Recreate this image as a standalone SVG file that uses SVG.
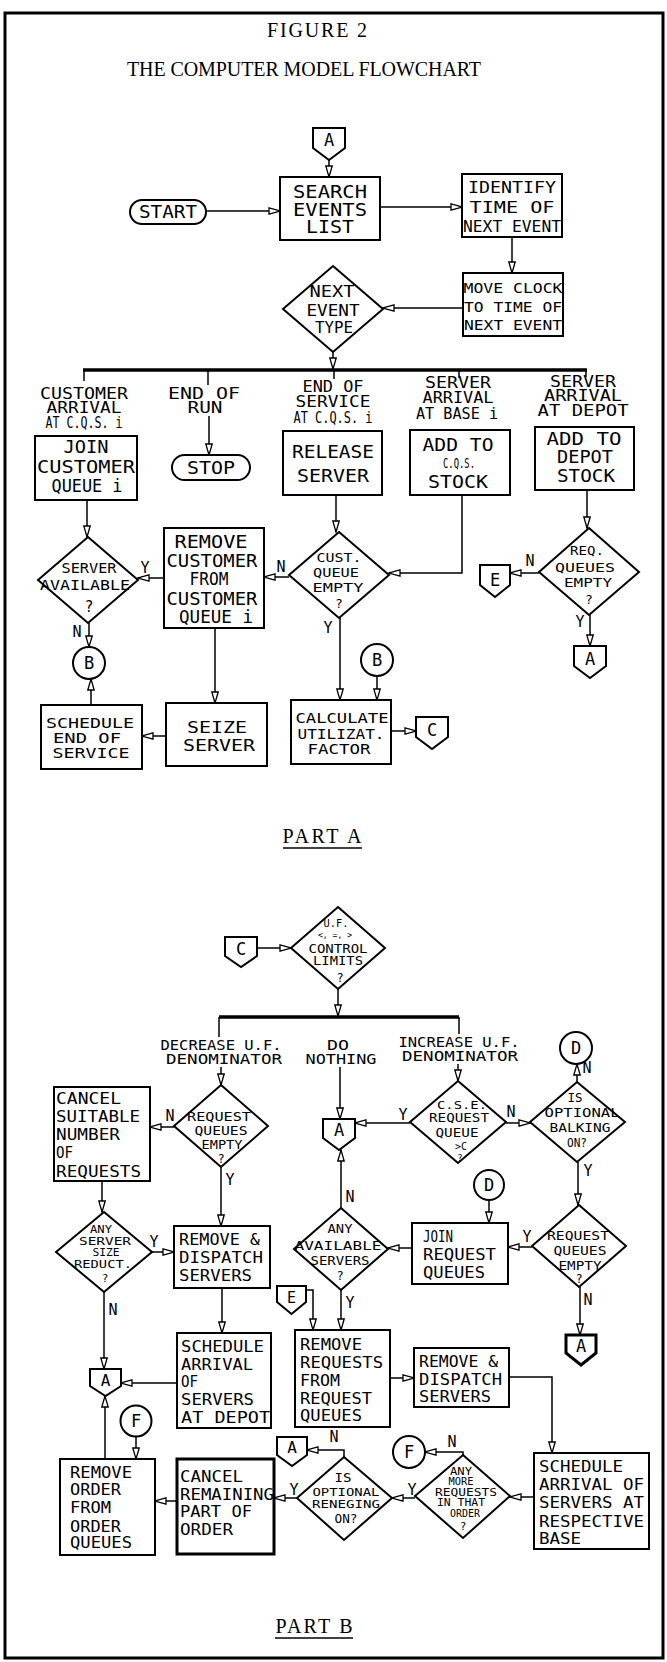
<svg xmlns="http://www.w3.org/2000/svg" width="667" height="1662" viewBox="0 0 667 1662">
<style>
.frame{fill:none;stroke:#000;stroke-width:3}
.bx{fill:#fff;stroke:#000;stroke-width:2}
.bb{fill:#fff;stroke:#000;stroke-width:3}
.c{fill:none;stroke:#000;stroke-width:1.5}
.bus{stroke:#000;stroke-width:3.5;fill:none}
text{font-family:"DejaVu Sans Mono",monospace;fill:#000}
.ti{font-family:"Liberation Serif",serif;font-size:20px;text-anchor:middle}
.m{text-anchor:middle}
.s{text-anchor:start}
.f18{font-size:18px}.f17{font-size:17px}.f16{font-size:16px}.f15{font-size:15px}.f14{font-size:14px}.f13{font-size:13px}.f12{font-size:12px}.f11{font-size:11px}.f10{font-size:10px}.f9{font-size:9px}
</style>
<defs>
<marker id="ah" markerUnits="userSpaceOnUse" markerWidth="13" markerHeight="9" refX="12" refY="4" orient="auto">
<path d="M1,0.8 L12,4 L1,7.2 Z" fill="#fff" stroke="#000" stroke-width="1.3"/>
</marker>
</defs>
<rect x="5" y="13" width="658" height="1645" fill="#fff"/>
<rect class="frame" x="5" y="13" width="658" height="1645"/>

<g id="titles">
<text class="ti" x="317" y="37" textLength="100" lengthAdjust="spacing">FIGURE 2</text>
<text class="ti" x="304" y="76" textLength="354" lengthAdjust="spacing">THE COMPUTER MODEL FLOWCHART</text>
<text class="ti" x="322" y="843" textLength="79" lengthAdjust="spacing">PART A</text>
<line x1="283" y1="848" x2="362" y2="848" stroke="#000" stroke-width="1.5"/>
<text class="ti" x="314" y="1633" textLength="77" lengthAdjust="spacing">PART B</text>
<line x1="275" y1="1638" x2="353" y2="1638" stroke="#000" stroke-width="1.5"/>
</g>

<g id="connectors">
<line class="c" x1="329" y1="160" x2="329" y2="177" marker-end="url(#ah)"/>
<line class="c" x1="206" y1="211" x2="280" y2="211" marker-end="url(#ah)"/>
<line class="c" x1="380" y1="207" x2="462" y2="207" marker-end="url(#ah)"/>
<line class="c" x1="512" y1="237" x2="512" y2="273" marker-end="url(#ah)"/>
<line class="c" x1="463" y1="308" x2="383" y2="308" marker-end="url(#ah)"/>
<line class="c" x1="333" y1="352" x2="333" y2="369" marker-end="url(#ah)"/>
<line class="bus" x1="83" y1="370" x2="587" y2="370"/>
<line class="c" x1="84" y1="370" x2="84" y2="381"/>
<line class="c" x1="208" y1="370" x2="208" y2="385"/>
<line class="c" x1="334" y1="370" x2="334" y2="379"/>
<line class="c" x1="459" y1="370" x2="459" y2="378"/>
<line class="c" x1="586" y1="370" x2="586" y2="377"/>
<line class="c" x1="209" y1="416" x2="209" y2="455" marker-end="url(#ah)"/>
<line class="c" x1="87" y1="500" x2="87" y2="537" marker-end="url(#ah)"/>
<line class="c" x1="336" y1="495" x2="336" y2="532" marker-end="url(#ah)"/>
<path class="c" d="M462,495 V573 H389" marker-end="url(#ah)"/>
<line class="c" x1="587" y1="490" x2="587" y2="528" marker-end="url(#ah)"/>
<line class="c" x1="164" y1="578" x2="138" y2="578" marker-end="url(#ah)"/>
<line class="c" x1="289" y1="577" x2="264" y2="577" marker-end="url(#ah)"/>
<line class="c" x1="539" y1="573" x2="510" y2="573" marker-end="url(#ah)"/>
<line class="c" x1="89" y1="623" x2="89" y2="647" marker-end="url(#ah)"/>
<line class="c" x1="91" y1="705" x2="91" y2="679" marker-end="url(#ah)"/>
<line class="c" x1="215" y1="628" x2="215" y2="703" marker-end="url(#ah)"/>
<line class="c" x1="166" y1="736" x2="142" y2="736" marker-end="url(#ah)"/>
<line class="c" x1="340" y1="618" x2="340" y2="700" marker-end="url(#ah)"/>
<line class="c" x1="377" y1="676" x2="377" y2="700" marker-end="url(#ah)"/>
<line class="c" x1="391" y1="731" x2="416" y2="731" marker-end="url(#ah)"/>
<line class="c" x1="590" y1="615" x2="590" y2="646" marker-end="url(#ah)"/>
<line class="c" x1="257" y1="948" x2="291" y2="948" marker-end="url(#ah)"/>
<line class="c" x1="338" y1="989" x2="338" y2="1016" marker-end="url(#ah)"/>
<line class="bus" x1="219" y1="1017" x2="459" y2="1017"/>
<line class="c" x1="219" y1="1017" x2="219" y2="1037"/>
<line class="c" x1="459" y1="1017" x2="459" y2="1034"/>
<line class="c" x1="221" y1="1067" x2="221" y2="1085" marker-end="url(#ah)"/>
<line class="c" x1="340" y1="1067" x2="340" y2="1119" marker-end="url(#ah)"/>
<line class="c" x1="458" y1="1064" x2="458" y2="1081" marker-end="url(#ah)"/>
<line class="c" x1="577" y1="1082" x2="577" y2="1064" marker-end="url(#ah)"/>
<line class="c" x1="174" y1="1127" x2="150" y2="1127" marker-end="url(#ah)"/>
<line class="c" x1="221" y1="1167" x2="221" y2="1226" marker-end="url(#ah)"/>
<line class="c" x1="102" y1="1181" x2="102" y2="1212" marker-end="url(#ah)"/>
<line class="c" x1="152" y1="1252" x2="174" y2="1252" marker-end="url(#ah)"/>
<line class="c" x1="104" y1="1292" x2="104" y2="1369" marker-end="url(#ah)"/>
<line class="c" x1="222" y1="1288" x2="222" y2="1333" marker-end="url(#ah)"/>
<line class="c" x1="177" y1="1383" x2="121" y2="1383" marker-end="url(#ah)"/>
<line class="c" x1="105" y1="1459" x2="105" y2="1396" marker-end="url(#ah)"/>
<line class="c" x1="410" y1="1123" x2="355" y2="1123" marker-end="url(#ah)"/>
<line class="c" x1="506" y1="1123" x2="530" y2="1123" marker-end="url(#ah)"/>
<line class="c" x1="578" y1="1162" x2="578" y2="1205" marker-end="url(#ah)"/>
<line class="c" x1="532" y1="1247" x2="508" y2="1247" marker-end="url(#ah)"/>
<line class="c" x1="489" y1="1200" x2="489" y2="1223" marker-end="url(#ah)"/>
<line class="c" x1="412" y1="1248" x2="388" y2="1248" marker-end="url(#ah)"/>
<line class="c" x1="341" y1="1208" x2="341" y2="1150" marker-end="url(#ah)"/>
<line class="c" x1="341" y1="1290" x2="341" y2="1330" marker-end="url(#ah)"/>
<path class="c" d="M306,1290 H313 V1330" marker-end="url(#ah)"/>
<line class="c" x1="580" y1="1287" x2="580" y2="1335" marker-end="url(#ah)"/>
<line class="c" x1="390" y1="1378" x2="414" y2="1378" marker-end="url(#ah)"/>
<path class="c" d="M509,1377 H552 V1453" marker-end="url(#ah)"/>
<line class="c" x1="534" y1="1497" x2="510" y2="1497" marker-end="url(#ah)"/>
<path class="c" d="M463,1455 V1452 H425" marker-end="url(#ah)"/>
<line class="c" x1="415" y1="1498" x2="392" y2="1498" marker-end="url(#ah)"/>
<path class="c" d="M344,1457 V1450 H307" marker-end="url(#ah)"/>
<line class="c" x1="297" y1="1498" x2="274" y2="1498" marker-end="url(#ah)"/>
<line class="c" x1="177" y1="1501" x2="155" y2="1501" marker-end="url(#ah)"/>
<line class="c" x1="136" y1="1437" x2="136" y2="1459" marker-end="url(#ah)"/>
</g>

<g id="flow-labels">
<text class="m f15" x="145" y="573">Y</text>
<text class="m f15" x="281" y="572">N</text>
<text class="m f15" x="530" y="566">N</text>
<text class="m f15" x="77" y="637">N</text>
<text class="m f15" x="328" y="633">Y</text>
<text class="m f15" x="580" y="627">Y</text>
<text class="m f15" x="587" y="1073">N</text>
<text class="m f15" x="170" y="1121">N</text>
<text class="m f15" x="230" y="1185">Y</text>
<text class="m f15" x="154" y="1247">Y</text>
<text class="m f15" x="113" y="1315">N</text>
<text class="m f15" x="403" y="1120">Y</text>
<text class="m f15" x="511" y="1117">N</text>
<text class="m f15" x="588" y="1176">Y</text>
<text class="m f15" x="527" y="1242">Y</text>
<text class="m f15" x="350" y="1202">N</text>
<text class="m f15" x="350" y="1308">Y</text>
<text class="m f15" x="588" y="1305">N</text>
<text class="m f15" x="452" y="1447">N</text>
<text class="m f15" x="412" y="1495">Y</text>
<text class="m f15" x="334" y="1442">N</text>
<text class="m f15" x="294" y="1495">Y</text>
</g>

<g id="branch-labels">
<text class="m f16" x="84" y="399" textLength="88" lengthAdjust="spacingAndGlyphs">CUSTOMER</text>
<text class="m f16" x="84" y="413" textLength="75" lengthAdjust="spacingAndGlyphs">ARRIVAL</text>
<text class="m f15" x="84" y="428" textLength="77" lengthAdjust="spacingAndGlyphs">AT C.Q.S. i</text>
<text class="m f16" x="204" y="399" textLength="72" lengthAdjust="spacingAndGlyphs">END OF</text>
<text class="m f16" x="205" y="413" textLength="35" lengthAdjust="spacingAndGlyphs">RUN</text>
<text class="m f16" x="333" y="392" textLength="61" lengthAdjust="spacingAndGlyphs">END OF</text>
<text class="m f16" x="333" y="407" textLength="75" lengthAdjust="spacingAndGlyphs">SERVICE</text>
<text class="m f15" x="333" y="423" textLength="79" lengthAdjust="spacingAndGlyphs">AT C.Q.S. i</text>
<text class="m f16" x="458" y="388" textLength="66" lengthAdjust="spacingAndGlyphs">SERVER</text>
<text class="m f16" x="458" y="403" textLength="71" lengthAdjust="spacingAndGlyphs">ARRIVAL</text>
<text class="m f16" x="457" y="419" textLength="82" lengthAdjust="spacingAndGlyphs">AT BASE i</text>
<text class="m f16" x="583" y="387" textLength="66" lengthAdjust="spacingAndGlyphs">SERVER</text>
<text class="m f16" x="583" y="401" textLength="78" lengthAdjust="spacingAndGlyphs">ARRIVAL</text>
<text class="m f16" x="583" y="416" textLength="91" lengthAdjust="spacingAndGlyphs">AT DEPOT</text>
<text class="m f14" x="221" y="1050" textLength="121" lengthAdjust="spacingAndGlyphs">DECREASE U.F.</text>
<text class="m f14" x="224" y="1064" textLength="116" lengthAdjust="spacingAndGlyphs">DENOMINATOR</text>
<text class="m f14" x="338" y="1050" textLength="22" lengthAdjust="spacingAndGlyphs">DO</text>
<text class="m f14" x="341" y="1064" textLength="71" lengthAdjust="spacingAndGlyphs">NOTHING</text>
<text class="m f14" x="459" y="1047" textLength="121" lengthAdjust="spacingAndGlyphs">INCREASE U.F.</text>
<text class="m f14" x="460" y="1061" textLength="116" lengthAdjust="spacingAndGlyphs">DENOMINATOR</text>
</g>

<g id="connA1"><polygon class="bx" points="313,128 345,128 345,148 329,160 313,148"/><text class="m f17" x="329" y="146">A</text></g>
<g id="start"><rect class="bx" x="130" y="200" width="76" height="24" rx="12"/><text class="m f17" x="168" y="218" textLength="58" lengthAdjust="spacingAndGlyphs">START</text></g>
<g id="search"><rect class="bx" x="280" y="177" width="100" height="63"/>
<text class="m f17" x="330" y="198" textLength="74" lengthAdjust="spacingAndGlyphs">SEARCH</text>
<text class="m f17" x="330" y="216" textLength="74" lengthAdjust="spacingAndGlyphs">EVENTS</text>
<text class="m f17" x="330" y="233" textLength="48" lengthAdjust="spacingAndGlyphs">LIST</text></g>
<g id="identify"><rect class="bx" x="462" y="174" width="100" height="63"/>
<text class="m f16" x="512" y="193" textLength="88" lengthAdjust="spacingAndGlyphs">IDENTIFY</text>
<text class="m f16" x="512" y="213" textLength="85" lengthAdjust="spacingAndGlyphs">TIME OF</text>
<text class="m f16" x="512" y="232" textLength="98" lengthAdjust="spacingAndGlyphs">NEXT EVENT</text></g>
<g id="moveclock"><rect class="bx" x="463" y="273" width="100" height="63"/>
<text class="m f14" x="513" y="293" textLength="99" lengthAdjust="spacingAndGlyphs">MOVE CLOCK</text>
<text class="m f14" x="513" y="312" textLength="98" lengthAdjust="spacingAndGlyphs">TO TIME OF</text>
<text class="m f14" x="513" y="330" textLength="98" lengthAdjust="spacingAndGlyphs">NEXT EVENT</text></g>
<g id="nextevent"><polygon class="bx" points="333,266 383,309 333,352 283,309"/>
<text class="m f15" x="332" y="297" textLength="45" lengthAdjust="spacingAndGlyphs">NEXT</text>
<text class="m f15" x="333" y="316" textLength="53" lengthAdjust="spacingAndGlyphs">EVENT</text>
<text class="m f15" x="334" y="333" textLength="38" lengthAdjust="spacingAndGlyphs">TYPE</text></g>

<g id="join"><rect class="bx" x="35" y="436" width="102" height="64"/>
<text class="m f17" x="86" y="453" textLength="45" lengthAdjust="spacingAndGlyphs">JOIN</text>
<text class="m f17" x="86" y="473" textLength="98" lengthAdjust="spacingAndGlyphs">CUSTOMER</text>
<text class="m f17" x="87" y="492" textLength="71" lengthAdjust="spacingAndGlyphs">QUEUE i</text></g>
<g id="stop"><rect class="bx" x="172" y="455" width="78" height="25" rx="12.5"/><text class="m f17" x="211" y="474" textLength="48" lengthAdjust="spacingAndGlyphs">STOP</text></g>
<g id="release"><rect class="bx" x="283" y="431" width="99" height="64"/>
<text class="m f18" x="333" y="458" textLength="82" lengthAdjust="spacingAndGlyphs">RELEASE</text>
<text class="m f18" x="333" y="482" textLength="72" lengthAdjust="spacingAndGlyphs">SERVER</text></g>
<g id="addcqs"><rect class="bx" x="410" y="430" width="100" height="65"/>
<text class="m f17" x="458" y="451" textLength="71" lengthAdjust="spacingAndGlyphs">ADD TO</text>
<text class="m f14" x="459" y="468" textLength="32" lengthAdjust="spacingAndGlyphs">C.Q.S.</text>
<text class="m f17" x="458" y="488" textLength="60" lengthAdjust="spacingAndGlyphs">STOCK</text></g>
<g id="adddepot"><rect class="bx" x="535" y="427" width="99" height="63"/>
<text class="m f17" x="584" y="445" textLength="75" lengthAdjust="spacingAndGlyphs">ADD TO</text>
<text class="m f17" x="585" y="463" textLength="56" lengthAdjust="spacingAndGlyphs">DEPOT</text>
<text class="m f17" x="586" y="482" textLength="58" lengthAdjust="spacingAndGlyphs">STOCK</text></g>
<g id="servavail"><polygon class="bx" points="88,537 138,580 88,623 38,580"/>
<text class="m f14" x="89" y="573" textLength="55" lengthAdjust="spacingAndGlyphs">SERVER</text>
<text class="m f14" x="85" y="590" textLength="90" lengthAdjust="spacingAndGlyphs">AVAILABLE</text>
<text class="m f15" x="89" y="612">?</text></g>
<g id="removecust"><rect class="bx" x="164" y="528" width="100" height="100"/>
<text class="m f17" x="211" y="548" textLength="73" lengthAdjust="spacingAndGlyphs">REMOVE</text>
<text class="m f17" x="212" y="567" textLength="91" lengthAdjust="spacingAndGlyphs">CUSTOMER</text>
<text class="m f17" x="209" y="585" textLength="39" lengthAdjust="spacingAndGlyphs">FROM</text>
<text class="m f17" x="212" y="605" textLength="91" lengthAdjust="spacingAndGlyphs">CUSTOMER</text>
<text class="m f17" x="216" y="623" textLength="74" lengthAdjust="spacingAndGlyphs">QUEUE i</text></g>
<g id="custq"><polygon class="bx" points="339,532 389,575 339,618 289,575"/>
<text class="m f13" x="339" y="562" textLength="45" lengthAdjust="spacingAndGlyphs">CUST.</text>
<text class="m f13" x="336" y="577" textLength="46" lengthAdjust="spacingAndGlyphs">QUEUE</text>
<text class="m f13" x="338" y="592" textLength="51" lengthAdjust="spacingAndGlyphs">EMPTY</text>
<text class="m f13" x="339" y="608">?</text></g>
<g id="reqq"><polygon class="bx" points="589,528 639,572 589,615 539,572"/>
<text class="m f13" x="587" y="555" textLength="34" lengthAdjust="spacingAndGlyphs">REQ.</text>
<text class="m f13" x="585" y="572" textLength="60" lengthAdjust="spacingAndGlyphs">QUEUES</text>
<text class="m f13" x="588" y="587" textLength="48" lengthAdjust="spacingAndGlyphs">EMPTY</text>
<text class="m f13" x="589" y="604">?</text></g>
<g id="connE1"><polygon class="bx" points="480,565 510,565 510,585 495,597 480,585"/><text class="m f17" x="495" y="586">E</text></g>
<g id="connB1"><circle class="bx" cx="89" cy="663" r="16"/><text class="m f17" x="89" y="669">B</text></g>
<g id="schedend"><rect class="bx" x="41" y="705" width="101" height="64"/>
<text class="m f14" x="90" y="728" textLength="88" lengthAdjust="spacingAndGlyphs">SCHEDULE</text>
<text class="m f14" x="87" y="743" textLength="68" lengthAdjust="spacingAndGlyphs">END OF</text>
<text class="m f14" x="91" y="758" textLength="77" lengthAdjust="spacingAndGlyphs">SERVICE</text></g>
<g id="seize"><rect class="bx" x="166" y="703" width="101" height="63"/>
<text class="m f16" x="217" y="733" textLength="60" lengthAdjust="spacingAndGlyphs">SEIZE</text>
<text class="m f16" x="219" y="751" textLength="72" lengthAdjust="spacingAndGlyphs">SERVER</text></g>
<g id="connB2"><circle class="bx" cx="377" cy="660" r="16"/><text class="m f17" x="377" y="666">B</text></g>
<g id="calc"><rect class="bx" x="291" y="700" width="100" height="64"/>
<text class="m f14" x="342" y="723" textLength="93" lengthAdjust="spacingAndGlyphs">CALCULATE</text>
<text class="m f14" x="341" y="739" textLength="87" lengthAdjust="spacingAndGlyphs">UTILIZAT.</text>
<text class="m f14" x="339" y="754" textLength="63" lengthAdjust="spacingAndGlyphs">FACTOR</text></g>
<g id="connC1"><polygon class="bx" points="416,717 448,717 448,737 432,749 416,737"/><text class="m f17" x="432" y="736">C</text></g>
<g id="connA2"><polygon class="bx" points="574,646 606,646 606,666 590,678 574,666"/><text class="m f17" x="590" y="665">A</text></g>

<g id="connC2"><polygon class="bx" points="225,937 257,937 257,956 241,967 225,956"/><text class="m f17" x="241" y="955">C</text></g>
<g id="ufdiamond"><polygon class="bx" points="338,907 385,948 338,989 291,948"/>
<text class="m f11" x="336" y="927" textLength="25" lengthAdjust="spacingAndGlyphs">U.F.</text>
<text class="m f9" x="335" y="938" textLength="34" lengthAdjust="spacingAndGlyphs">&lt;, =, &gt;</text>
<text class="m f12" x="338" y="953" textLength="59" lengthAdjust="spacingAndGlyphs">CONTROL</text>
<text class="m f12" x="338" y="965" textLength="50" lengthAdjust="spacingAndGlyphs">LIMITS</text>
<text class="m f12" x="340" y="982">?</text></g>
<g id="connD1"><circle class="bx" cx="576" cy="1048" r="16"/><text class="m f17" x="576" y="1054">D</text></g>
<g id="cancelsuit"><rect class="bx" x="54" y="1087" width="96" height="94"/>
<text class="s f16" x="56" y="1104" textLength="65" lengthAdjust="spacingAndGlyphs">CANCEL</text>
<text class="s f16" x="56" y="1122" textLength="84" lengthAdjust="spacingAndGlyphs">SUITABLE</text>
<text class="s f16" x="56" y="1140" textLength="64" lengthAdjust="spacingAndGlyphs">NUMBER</text>
<text class="s f16" x="56" y="1158" textLength="17" lengthAdjust="spacingAndGlyphs">OF</text>
<text class="s f16" x="56" y="1177" textLength="85" lengthAdjust="spacingAndGlyphs">REQUESTS</text></g>
<g id="reqqL"><polygon class="bx" points="221,1085 268,1126 221,1167 174,1126"/>
<text class="m f12" x="219" y="1121" textLength="64" lengthAdjust="spacingAndGlyphs">REQUEST</text>
<text class="m f12" x="221" y="1135" textLength="53" lengthAdjust="spacingAndGlyphs">QUEUES</text>
<text class="m f12" x="222" y="1149" textLength="41" lengthAdjust="spacingAndGlyphs">EMPTY</text>
<text class="m f12" x="221" y="1163">?</text></g>
<g id="anyserver"><polygon class="bx" points="104,1212 152,1252 104,1292 56,1252"/>
<text class="m f11" x="101" y="1233" textLength="22" lengthAdjust="spacingAndGlyphs">ANY</text>
<text class="m f11" x="105" y="1245" textLength="52" lengthAdjust="spacingAndGlyphs">SERVER</text>
<text class="m f11" x="106" y="1256" textLength="27" lengthAdjust="spacingAndGlyphs">SIZE</text>
<text class="m f11" x="103" y="1268" textLength="58" lengthAdjust="spacingAndGlyphs">REDUCT.</text>
<text class="m f11" x="105" y="1282">?</text></g>
<g id="removedisp1"><rect class="bx" x="174" y="1226" width="96" height="62"/>
<text class="s f16" x="179" y="1245" textLength="81" lengthAdjust="spacingAndGlyphs">REMOVE &amp;</text>
<text class="s f16" x="179" y="1263" textLength="84" lengthAdjust="spacingAndGlyphs">DISPATCH</text>
<text class="s f16" x="179" y="1281" textLength="73" lengthAdjust="spacingAndGlyphs">SERVERS</text></g>
<g id="scheddepot"><rect class="bx" x="177" y="1333" width="94" height="95"/>
<text class="s f16" x="181" y="1352" textLength="83" lengthAdjust="spacingAndGlyphs">SCHEDULE</text>
<text class="s f16" x="181" y="1370" textLength="72" lengthAdjust="spacingAndGlyphs">ARRIVAL</text>
<text class="s f16" x="181" y="1387" textLength="17" lengthAdjust="spacingAndGlyphs">OF</text>
<text class="s f16" x="181" y="1405" textLength="73" lengthAdjust="spacingAndGlyphs">SERVERS</text>
<text class="s f16" x="181" y="1423" textLength="89" lengthAdjust="spacingAndGlyphs">AT DEPOT</text></g>
<g id="connA3"><polygon class="bx" points="90,1369 121,1369 121,1386 105.5,1396 90,1386"/><text class="m f16" x="105.5" y="1386">A</text></g>
<g id="connA4"><polygon class="bx" points="323,1119 355,1119 355,1138 339,1150 323,1138"/><text class="m f17" x="339" y="1136">A</text></g>
<g id="cse"><polygon class="bx" points="458,1081 506,1122 458,1163 410,1122"/>
<text class="m f11" x="462" y="1109" textLength="50" lengthAdjust="spacingAndGlyphs">C.S.E.</text>
<text class="m f12" x="459" y="1122" textLength="60" lengthAdjust="spacingAndGlyphs">REQUEST</text>
<text class="m f12" x="457" y="1137" textLength="43" lengthAdjust="spacingAndGlyphs">QUEUE</text>
<text class="m f11" x="461" y="1150" textLength="12" lengthAdjust="spacingAndGlyphs">&gt;C</text>
<text class="m f9" x="460" y="1161">?</text></g>
<g id="balk"><polygon class="bx" points="577,1082 625,1122 577,1162 530,1122"/>
<text class="m f12" x="575" y="1102" textLength="15" lengthAdjust="spacingAndGlyphs">IS</text>
<text class="m f12" x="582" y="1117" textLength="75" lengthAdjust="spacingAndGlyphs">OPTIONAL</text>
<text class="m f12" x="580" y="1132" textLength="61" lengthAdjust="spacingAndGlyphs">BALKING</text>
<text class="m f12" x="577" y="1147" textLength="20" lengthAdjust="spacingAndGlyphs">ON?</text></g>
<g id="connD2"><circle class="bx" cx="489" cy="1185" r="15"/><text class="m f17" x="489" y="1191">D</text></g>
<g id="reqqR"><polygon class="bx" points="579,1205 626,1246 579,1287 532,1246"/>
<text class="m f12" x="578" y="1240" textLength="62" lengthAdjust="spacingAndGlyphs">REQUEST</text>
<text class="m f12" x="580" y="1255" textLength="53" lengthAdjust="spacingAndGlyphs">QUEUES</text>
<text class="m f12" x="580" y="1270" textLength="43" lengthAdjust="spacingAndGlyphs">EMPTY</text>
<text class="m f12" x="579" y="1283">?</text></g>
<g id="joinreq"><rect class="bx" x="412" y="1223" width="96" height="61"/>
<text class="s f16" x="423" y="1242" textLength="30" lengthAdjust="spacingAndGlyphs">JOIN</text>
<text class="s f16" x="423" y="1260" textLength="73" lengthAdjust="spacingAndGlyphs">REQUEST</text>
<text class="s f16" x="423" y="1278" textLength="62" lengthAdjust="spacingAndGlyphs">QUEUES</text></g>
<g id="anyavail"><polygon class="bx" points="341,1208 388,1249 341,1290 294,1249"/>
<text class="m f12" x="340" y="1233" textLength="25" lengthAdjust="spacingAndGlyphs">ANY</text>
<text class="m f12" x="338" y="1250" textLength="87" lengthAdjust="spacingAndGlyphs">AVAILABLE</text>
<text class="m f12" x="340" y="1265" textLength="59" lengthAdjust="spacingAndGlyphs">SERVERS</text>
<text class="m f12" x="340" y="1280">?</text></g>
<g id="connE2"><polygon class="bx" points="277,1286 306,1286 306,1302 291.5,1314 277,1302"/><text class="m f15" x="291.5" y="1303">E</text></g>
<g id="connA5"><polygon class="bb" points="566,1335 596,1335 596,1353 581,1365 566,1353"/><text class="m f17" x="581" y="1352">A</text></g>
<g id="removereq"><rect class="bx" x="295" y="1330" width="95" height="97"/>
<text class="s f16" x="300" y="1350" textLength="62" lengthAdjust="spacingAndGlyphs">REMOVE</text>
<text class="s f16" x="300" y="1368" textLength="83" lengthAdjust="spacingAndGlyphs">REQUESTS</text>
<text class="s f16" x="300" y="1386" textLength="40" lengthAdjust="spacingAndGlyphs">FROM</text>
<text class="s f16" x="300" y="1404" textLength="72" lengthAdjust="spacingAndGlyphs">REQUEST</text>
<text class="s f16" x="300" y="1421" textLength="62" lengthAdjust="spacingAndGlyphs">QUEUES</text></g>
<g id="removedisp2"><rect class="bx" x="414" y="1348" width="95" height="59"/>
<text class="s f16" x="419" y="1367" textLength="79" lengthAdjust="spacingAndGlyphs">REMOVE &amp;</text>
<text class="s f16" x="419" y="1385" textLength="83" lengthAdjust="spacingAndGlyphs">DISPATCH</text>
<text class="s f16" x="419" y="1402" textLength="72" lengthAdjust="spacingAndGlyphs">SERVERS</text></g>
<g id="schedresp"><rect class="bx" x="534" y="1453" width="115" height="96"/>
<text class="s f16" x="539" y="1472" textLength="84" lengthAdjust="spacingAndGlyphs">SCHEDULE</text>
<text class="s f16" x="539" y="1490" textLength="105" lengthAdjust="spacingAndGlyphs">ARRIVAL OF</text>
<text class="s f16" x="539" y="1508" textLength="105" lengthAdjust="spacingAndGlyphs">SERVERS AT</text>
<text class="s f16" x="539" y="1527" textLength="105" lengthAdjust="spacingAndGlyphs">RESPECTIVE</text>
<text class="s f16" x="539" y="1544" textLength="42" lengthAdjust="spacingAndGlyphs">BASE</text></g>
<g id="anymore"><polygon class="bx" points="463,1455 510,1496 463,1538 415,1496"/>
<text class="m f10" x="461" y="1475" textLength="22" lengthAdjust="spacingAndGlyphs">ANY</text>
<text class="m f10" x="461" y="1485" textLength="25" lengthAdjust="spacingAndGlyphs">MORE</text>
<text class="m f11" x="466" y="1496" textLength="62" lengthAdjust="spacingAndGlyphs">REQUESTS</text>
<text class="m f10" x="461" y="1506" textLength="48" lengthAdjust="spacingAndGlyphs">IN THAT</text>
<text class="m f10" x="465" y="1517" textLength="30" lengthAdjust="spacingAndGlyphs">ORDER</text>
<text class="m f11" x="463" y="1530">?</text></g>
<g id="connF1"><circle class="bx" cx="409" cy="1452" r="16"/><text class="m f17" x="409" y="1458">F</text></g>
<g id="reneg"><polygon class="bx" points="344,1457 392,1498 344,1540 297,1498"/>
<text class="m f12" x="343" y="1482" textLength="17" lengthAdjust="spacingAndGlyphs">IS</text>
<text class="m f11" x="346" y="1496" textLength="67" lengthAdjust="spacingAndGlyphs">OPTIONAL</text>
<text class="m f11" x="346" y="1508" textLength="68" lengthAdjust="spacingAndGlyphs">RENEGING</text>
<text class="m f12" x="346" y="1523" textLength="23" lengthAdjust="spacingAndGlyphs">ON?</text></g>
<g id="connA6"><polygon class="bx" points="277,1437 307,1437 307,1455 292,1466 277,1455"/><text class="m f16" x="292" y="1453">A</text></g>
<g id="cancelrem"><rect class="bb" x="177" y="1459" width="97" height="95"/>
<text class="s f16" x="180" y="1482" textLength="63" lengthAdjust="spacingAndGlyphs">CANCEL</text>
<text class="s f16" x="180" y="1500" textLength="94" lengthAdjust="spacingAndGlyphs">REMAINING</text>
<text class="s f16" x="180" y="1517" textLength="72" lengthAdjust="spacingAndGlyphs">PART OF</text>
<text class="s f16" x="180" y="1535" textLength="53" lengthAdjust="spacingAndGlyphs">ORDER</text></g>
<g id="removeorder"><rect class="bx" x="60" y="1459" width="95" height="96"/>
<text class="s f16" x="70" y="1478" textLength="62" lengthAdjust="spacingAndGlyphs">REMOVE</text>
<text class="s f16" x="70" y="1495" textLength="51" lengthAdjust="spacingAndGlyphs">ORDER</text>
<text class="s f16" x="70" y="1513" textLength="41" lengthAdjust="spacingAndGlyphs">FROM</text>
<text class="s f16" x="70" y="1532" textLength="51" lengthAdjust="spacingAndGlyphs">ORDER</text>
<text class="s f16" x="70" y="1548" textLength="62" lengthAdjust="spacingAndGlyphs">QUEUES</text></g>
<g id="connF2"><circle class="bx" cx="136" cy="1421" r="15.5"/><text class="m f17" x="136" y="1427">F</text></g>
</svg>
